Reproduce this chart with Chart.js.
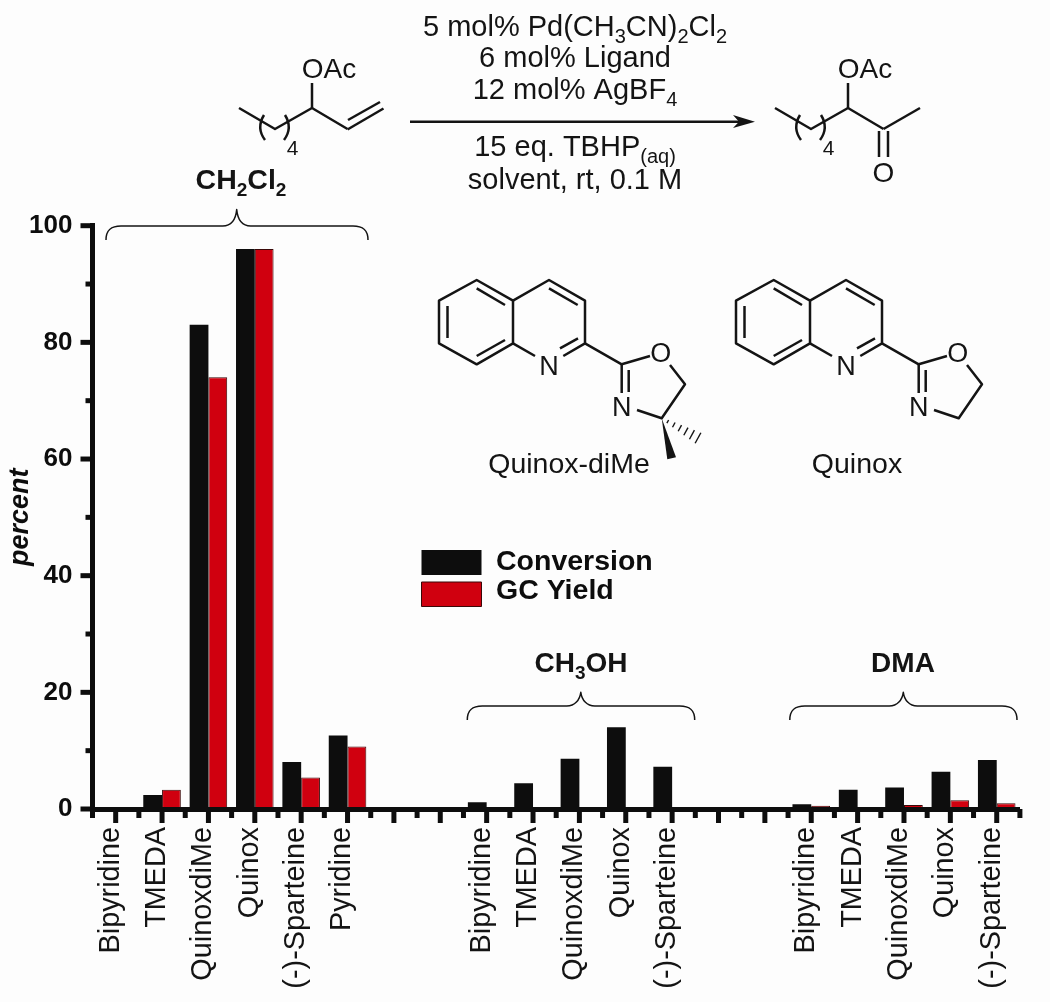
<!DOCTYPE html>
<html>
<head>
<meta charset="utf-8">
<title>Ligand screen</title>
<script src="https://cdn.jsdelivr.net/npm/chart.js@4"></script>
<style>
    html, body { margin: 0; padding: 0; background: #fdfdfd; }
    canvas { display: block; }
</style>
</head>
<body>
<canvas id="chart" width="1050" height="1002"></canvas>
<script>
const categories = [
    'Bipyridine', 'TMEDA', 'QuinoxdiMe', 'Quinox', '(-)-Sparteine', 'Pyridine', '', '',
    'Bipyridine', 'TMEDA', 'QuinoxdiMe', 'Quinox', '(-)-Sparteine', '', '',
    'Bipyridine', 'TMEDA', 'QuinoxdiMe', 'Quinox', '(-)-Sparteine'
];
const conversion = [0, 2.4, 83, 96, 8.05, 12.6, null, null, 1.15, 4.4, 8.6, 14, 7.25, null, null, 0.8, 3.3, 3.7, 6.4, 8.4];
const gcYield = [0, 3.3, 74, 96, 5.4, 10.7, null, null, 0, 0, 0, 0, 0, null, null, 0.55, 0, 0.7, 1.5, 1];
const yMinorTicks = [10, 30, 50, 70, 90];
const yMajorTicks = [0, 20, 40, 60, 80, 100];

const INK = '#0d0d0d';
const RED = '#d0000f';
const FONT = '"Liberation Sans", Arial, sans-serif';

Chart.defaults.font.family = FONT;
Chart.defaults.color = INK;

function line(ctx, pts) {
    ctx.beginPath();
    ctx.moveTo(pts[0][0], pts[0][1]);
    for (let i = 1; i < pts.length; i++) {
        ctx.lineTo(pts[i][0], pts[i][1]);
    }
    ctx.stroke();
}

// text with subscripts: parts are [string, isSub]
function richText(ctx, parts, x, y, size, weight, align) {
    const full = (weight || '') + ' ' + size + 'px ' + FONT;
    const small = (weight || '') + ' ' + Math.round(size * 0.68) + 'px ' + FONT;
    let total = 0;
    parts.forEach(p => {
        ctx.font = p[1] ? small : full;
        total += ctx.measureText(p[0]).width;
    });
    let cx = align === 'left' ? x : x - total / 2;
    ctx.textAlign = 'left';
    ctx.textBaseline = 'alphabetic';
    parts.forEach(p => {
        ctx.font = p[1] ? small : full;
        ctx.fillText(p[0], cx, p[1] ? y + size * 0.24 : y);
        cx += ctx.measureText(p[0]).width;
    });
}

function brace(ctx, left, right, mid, top, peak, foot) {
    ctx.lineWidth = 1.5;
    ctx.beginPath();
    ctx.moveTo(left, foot);
    ctx.bezierCurveTo(left, top + 3, left + 6, top, left + 15, top);
    ctx.lineTo(mid - 14, top);
    ctx.bezierCurveTo(mid - 6, top, mid - 1, top - 6, mid, peak);
    ctx.bezierCurveTo(mid + 1, top - 6, mid + 6, top, mid + 14, top);
    ctx.lineTo(right - 15, top);
    ctx.bezierCurveTo(right - 6, top, right, top + 3, right, foot);
    ctx.stroke();
}

function chain(ctx, dx) {
    line(ctx, [[239 + dx, 108], [275 + dx, 129], [312 + dx, 108], [347.5 + dx, 129]]);
    line(ctx, [[312 + dx, 108], [312 + dx, 83]]);
    ctx.beginPath();
    ctx.moveTo(264 + dx, 115);
    ctx.quadraticCurveTo(256 + dx, 128, 265 + dx, 140);
    ctx.moveTo(285 + dx, 115);
    ctx.quadraticCurveTo(293 + dx, 128, 284 + dx, 140);
    ctx.stroke();
    richText(ctx, [['OAc']], 329 + dx, 78, 28);
    richText(ctx, [['4']], 292.5 + dx, 155, 21);
}

function quinoxaline(ctx, dx) {
    const p = (x, y) => [x + dx, y];
    line(ctx, [p(513, 300.7), p(476.7, 280), p(439, 300.7), p(439, 343.3), p(476.7, 364.3), p(513, 343.3), p(513, 300.7)]);
    line(ctx, [p(513, 300.7), p(549, 280), p(585, 300.7), p(585, 343.3), p(563.3, 356)]);
    line(ctx, [p(513, 343.3), p(535, 356)]);
    line(ctx, [p(447.5, 306), p(447.5, 338)]);
    line(ctx, [p(476.7, 288.3), p(505, 305)]);
    line(ctx, [p(476.7, 356), p(505, 340)]);
    line(ctx, [p(549, 288.3), p(577.7, 305)]);
    line(ctx, [p(560, 348.3), p(578, 338.3)]);
    line(ctx, [p(585, 343.3), p(621.7, 364.3), p(650, 356)]);
    line(ctx, [p(670, 365), p(685, 384.3), p(661.7, 418.3), p(637, 410)]);
    line(ctx, [p(621.7, 364.3), p(621.7, 393)]);
    line(ctx, [p(628.7, 370), p(628.7, 392)]);
    richText(ctx, [['N']], 549 + dx, 375, 27);
    richText(ctx, [['O']], 660.7 + dx, 362, 27);
    richText(ctx, [['N']], 621.7 + dx, 416, 27);
}

const axisTicks = {
    id: 'axisTicks',
    afterDatasetsDraw(chart) {
        const {ctx, scales: {x, y}} = chart;
        ctx.save();
        ctx.strokeStyle = INK;
        ctx.lineWidth = 5;
        const base = y.getPixelForValue(0);
        const band = x.getPixelForTick(1) - x.getPixelForTick(0);
        categories.forEach((c, i) => {
            const px = x.getPixelForTick(i);
            line(ctx, [[px, base], [px, base + 14]]);
            line(ctx, [[px - band / 2, base], [px - band / 2, base + 9]]);
        });
        const end = x.getPixelForTick(categories.length - 1) + band / 2;
        line(ctx, [[end, base], [end, base + 9]]);
        yMajorTicks.forEach(v => {
            const py = y.getPixelForValue(v);
            line(ctx, [[x.left, py], [x.left - 12, py]]);
        });
        yMinorTicks.forEach(v => {
            const py = y.getPixelForValue(v);
            line(ctx, [[x.left, py], [x.left - 7, py]]);
        });
        ctx.restore();
    }
};

// reaction scheme, ligands, solvent braces and legend
const annotations = {
    id: 'annotations',
    afterDraw(chart) {
        const ctx = chart.ctx;
        ctx.save();
        ctx.fillStyle = '#141414';
        ctx.strokeStyle = '#141414';
        ctx.lineWidth = 2.5;
        ctx.lineJoin = 'round';

        chain(ctx, 0);
        line(ctx, [[348, 120], [380, 102]]);
        line(ctx, [[347.5, 129.5], [383.5, 108.5]]);

        chain(ctx, 536);
        line(ctx, [[883.5, 129], [920, 108]]);
        line(ctx, [[879, 131], [879, 157]]);
        line(ctx, [[888, 131], [888, 157]]);
        richText(ctx, [['O']], 883.5, 182, 28);

        richText(ctx, [['5 mol% Pd(CH'], ['3', 1], ['CN)'], ['2', 1], ['Cl'], ['2', 1]], 575, 36, 29);
        richText(ctx, [['6 mol% Ligand']], 575, 67, 29);
        richText(ctx, [['12 mol% AgBF'], ['4', 1]], 575, 99, 29);
        richText(ctx, [['15 eq. TBHP'], ['(aq)', 1]], 575, 156, 29);
        richText(ctx, [['solvent, rt, 0.1 M']], 575, 189, 29);

        line(ctx, [[410, 121.7], [745, 121.7]]);
        ctx.beginPath();
        ctx.moveTo(755, 121.7);
        ctx.lineTo(733, 115);
        ctx.lineTo(739, 121.7);
        ctx.lineTo(733, 128);
        ctx.closePath();
        ctx.fill();

        quinoxaline(ctx, 0);
        quinoxaline(ctx, 297);
        richText(ctx, [['Quinox-diMe']], 569, 473, 28.5);
        richText(ctx, [['Quinox']], 857, 473, 28.5);

        // gem-dimethyl wedge and hash
        ctx.beginPath();
        ctx.moveTo(661.7, 418.3);
        ctx.lineTo(667.3, 459.3);
        ctx.lineTo(676, 457.3);
        ctx.closePath();
        ctx.fill();
        ctx.lineWidth = 1.4;
        for (let i = 1; i <= 6; i++) {
            const t = i / 6;
            const hx = 661.7 + 36.3 * t;
            const hy = 418.3 + 19.7 * t;
            const half = 1 + 5 * t;
            line(ctx, [[hx - 0.48 * half, hy + 0.88 * half], [hx + 0.48 * half, hy - 0.88 * half]]);
        }

        brace(ctx, 106, 368, 236.7, 226, 209.5, 240);
        brace(ctx, 467.3, 694.7, 580.8, 706, 692.3, 720);
        brace(ctx, 789.8, 1017, 903.3, 706, 692.3, 720);
        richText(ctx, [['CH'], ['2', 1], ['Cl'], ['2', 1]], 241, 189, 28.5, 'bold');
        richText(ctx, [['CH'], ['3', 1], ['OH']], 581, 672, 28, 'bold');
        richText(ctx, [['DMA']], 903, 672, 28, 'bold');

        const ds = chart.data.datasets;
        ctx.fillStyle = ds[0].backgroundColor;
        ctx.fillRect(421.5, 550, 60, 25);
        ctx.fillStyle = ds[1].backgroundColor;
        ctx.fillRect(421.5, 582, 60, 24.5);
        ctx.strokeStyle = ds[1].borderColor;
        ctx.lineWidth = 1;
        ctx.strokeRect(421.5, 582, 60, 24.5);
        ctx.fillStyle = INK;
        richText(ctx, [[ds[0].label]], 496, 570, 28.5, 'bold', 'left');
        richText(ctx, [[ds[1].label]], 496, 599, 28.5, 'bold', 'left');
        ctx.restore();
    }
};

new Chart(document.getElementById('chart'), {
    type: 'bar',
    data: {
        labels: categories,
        datasets: [
            {label: 'Conversion', data: conversion, backgroundColor: INK, borderWidth: 0},
            {label: 'GC Yield', data: gcYield, backgroundColor: RED, borderColor: '#3a0808', borderWidth: 1}
        ]
    },
    options: {
        responsive: false,
        maintainAspectRatio: false,
        animation: false,
        layout: {padding: {left: 0, right: 28.6, top: 225.7, bottom: 0}},
        datasets: {bar: {categoryPercentage: 0.81, barPercentage: 1}},
        plugins: {legend: {display: false}, tooltip: {enabled: false}},
        scales: {
            x: {
                offset: true,
                afterFit(scale) { scale.height = 1002 - 809; },
                grid: {display: true, drawOnChartArea: false, drawTicks: false},
                border: {color: INK, width: 5, z: 1},
                ticks: {
                    autoSkip: false,
                    minRotation: 90,
                    maxRotation: 90,
                    padding: 18,
                    labelOffset: -5,
                    color: '#141414',
                    font: {size: 28.8}
                }
            },
            y: {
                min: 0,
                max: 100,
                afterFit(scale) { scale.width = 92.5; },
                grid: {display: true, drawOnChartArea: false, drawTicks: false},
                border: {color: INK, width: 5, z: 1},
                ticks: {
                    stepSize: 20,
                    padding: 20,
                    color: INK,
                    font: {size: 26, weight: 'bold'}
                },
                title: {
                    display: true,
                    text: 'percent',
                    color: INK,
                    padding: {top: 4, bottom: 0},
                    font: {size: 27, weight: 'bold', style: 'italic'}
                }
            }
        }
    },
    plugins: [axisTicks, annotations]
});
</script>
</body>
</html>
